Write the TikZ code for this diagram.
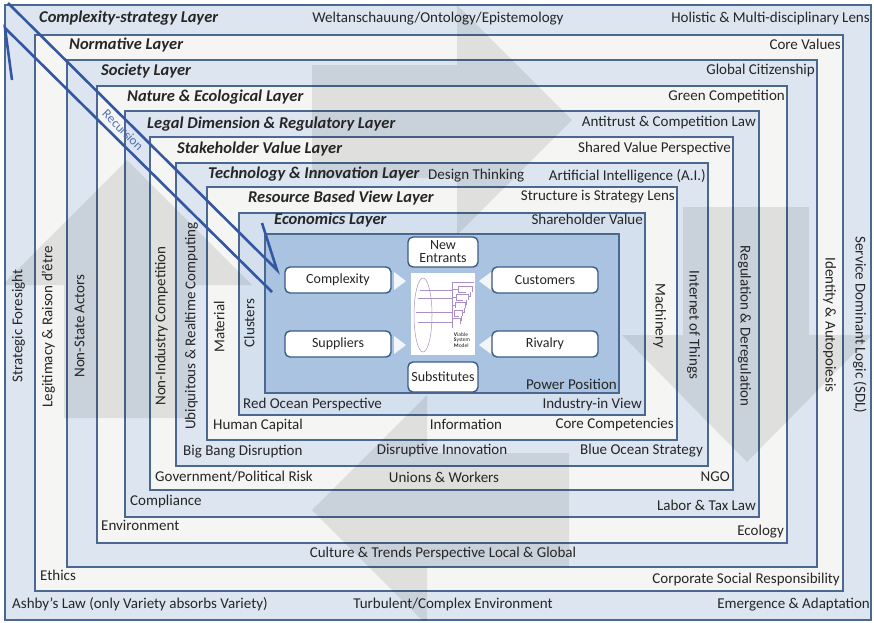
\documentclass[tikz,border=0pt]{standalone}
\usepackage{fontspec}
\setmainfont{Carlito}
\definecolor{bandblue}{HTML}{DDE5F0}
\definecolor{bandwhite}{HTML}{F5F5F3}
\definecolor{econblue}{HTML}{D4E0EE}
\definecolor{coreblue}{HTML}{A9C3E0}
\definecolor{frameline}{HTML}{4A6890}
\definecolor{boxline}{HTML}{3B5B88}
\definecolor{txt}{HTML}{262626}
\definecolor{recblue}{HTML}{3457A4}
\definecolor{vsmpurple}{HTML}{A98FCB}
\begin{document}
\begin{tikzpicture}[x=1pt,y=-1pt,
  every node/.style={text=txt},
  frame/.style={draw=frameline, line width=1.3pt},
  lab/.style={inner sep=0pt, font=\fontsize{15}{17}\selectfont},
  layer/.style={lab, anchor=mid west, font=\fontsize{16.5}{18}\selectfont\bfseries\itshape},
  lw/.style={lab, anchor=mid west},
  le/.style={lab, anchor=mid east},
  lc/.style={lab, anchor=mid},
  up/.style={lab, anchor=mid, rotate=90},
  down/.style={lab, anchor=mid, rotate=-90},
  force/.style={draw=boxline, line width=1.4pt, fill=white, rounded corners=5pt,
    inner sep=0pt, font=\fontsize{14}{14}\selectfont, align=center},
  wide/.style={force, minimum width=106pt, minimum height=26pt},
  tall/.style={force, minimum width=70pt, minimum height=30pt},
  pointer/.style={fill=white, fill opacity=0.85},
  bigarrow/.style={fill=black, fill opacity=0.085},
  vsm/.style={draw=vsmpurple, line width=0.5pt},
  rec/.style={draw=recblue, line width=2.6pt}]

\useasboundingbox (0,0) rectangle (874,622);
\fill[white] (0,0) rectangle (874,622);

% nested layers, outermost first
\path[frame, fill=bandblue]  (5,5)     rectangle (871,620);
\path[frame, fill=bandwhite] (35,35)   rectangle (843,591);
\path[frame, fill=bandblue]  (67,60)   rectangle (817,567);
\path[frame, fill=bandwhite] (97,86)   rectangle (787,543);
\path[frame, fill=bandblue]  (125,111) rectangle (759,517);
\path[frame, fill=bandwhite] (150,137) rectangle (733,490);
\path[frame, fill=bandblue]  (176,163) rectangle (708,466);
\path[frame, fill=bandwhite] (207,187) rectangle (677,440);
\path[frame, fill=econblue]  (239,213) rectangle (645,415);
\path[frame, fill=coreblue]  (265,234) rectangle (619,393);

% four large translucent arrows forming a cycle
\begin{scope}
\clip (5,5) rectangle (871,620);
\fill[bigarrow] (312,65) -- (457,65) -- (457,5) -- (572,120) -- (457,235) -- (457,178) -- (312,178) -- cycle;
\fill[bigarrow] (683,207) -- (809,207) -- (809,335) -- (872,335) -- (747,462) -- (622,335) -- (683,335) -- cycle;
\fill[bigarrow] (569,453) -- (569,567) -- (427,567) -- (427,625) -- (312,510) -- (427,395) -- (427,453) -- cycle;
\fill[bigarrow] (190,418) -- (64,418) -- (64,285) -- (2,285) -- (127,160) -- (252,285) -- (190,285) -- cycle;
\end{scope}

% top rows
\node[layer] (t0) at (39,20)  {Complexity-strategy Layer};
\node[lc]    (t0c) at (438,20) {Weltanschauung/Ontology/Epistemology};
\node[le]    (t0r) at (870,20) {Holistic \& Multi-disciplinary Lens};
\node[layer] (t1) at (69,47)  {Normative Layer};
\node[le]    (t1r) at (841,47) {Core Values};
\node[layer] (t2) at (101,73) {Society Layer};
\node[le]    (t2r) at (815,72) {Global Citizenship};
\node[layer] (t3) at (127,99) {Nature \& Ecological Layer};
\node[le]    (t3r) at (785,98) {Green Competition};
\node[layer] (t4) at (147,126) {Legal Dimension \& Regulatory Layer};
\node[le]    (t4r) at (756,124) {Antitrust \& Competition Law};
\node[layer] (t5) at (177,151) {Stakeholder Value Layer};
\node[le]    (t5r) at (731,150) {Shared Value Perspective};
\node[layer] (t6) at (208,176) {Technology \& Innovation Layer};
\node[lw]    (t6c) at (428,177) {Design Thinking};
\node[le]    (t6r) at (706,178) {Artificial Intelligence (A.I.)};
\node[layer] (t7) at (248,200) {Resource Based View Layer};
\node[le]    (t7r) at (675,198) {Structure is Strategy Lens};
\node[layer] (t8) at (274,222) {Economics Layer};
\node[le]    (t8r) at (643,222) {Shareholder Value};

% bottom rows
\node[le]    (b9r) at (617,387) {Power Position};
\node[lw]    (b8)  at (243,406) {Red Ocean Perspective};
\node[le]    (b8r) at (642,406) {Industry-in View};
\node[lw]    (b7)  at (213,427) {Human Capital};
\node[lc]    (b7c) at (466,427) {Information};
\node[le]    (b7r) at (674,426) {Core Competencies};
\node[lw]    (b6)  at (183,453) {Big Bang Disruption};
\node[lc]    (b6c) at (442,452) {Disruptive Innovation};
\node[le]    (b6r) at (703,452) {Blue Ocean Strategy};
\node[lw]    (b5)  at (155,479) {Government/Political Risk};
\node[lc]    (b5c) at (444,480) {Unions \& Workers};
\node[le]    (b5r) at (730,479) {NGO};
\node[lw]    (b4)  at (130,503) {Compliance};
\node[le]    (b4r) at (756,508) {Labor \& Tax Law};
\node[lw]    (b3)  at (101,528) {Environment};
\node[le]    (b3r) at (784,533) {Ecology};
\node[lc]    (b2c) at (443,555) {Culture \& Trends Perspective Local \& Global};
\node[lw]    (b1)  at (40,578)  {Ethics};
\node[le]    (b1r) at (840,581) {Corporate Social Responsibility};
\node[lw]    (b0)  at (12,606)  {Ashby’s Law (only Variety absorbs Variety)};
\node[lc]    (b0c) at (453,606) {Turbulent/Complex Environment};
\node[le]    (b0r) at (870,606) {Emergence \& Adaptation};

% side columns
\node[up]   (s0) at (20,326)  {Strategic Foresight};
\node[up]   (s1) at (50,327)  {Legitimacy \& Raison d’être};
\node[up]   (s2) at (82,326)  {Non-State Actors};
\node[up]   (s5) at (163,326) {Non-Industry Competition};
\node[up]   (s6) at (193,326) {Ubiquitous \& Realtime Computing};
\node[up]   (s7) at (222,327) {Material};
\node[up]   (s8) at (252,323) {Clusters};
\node[down] (e7) at (658,316) {Machinery};
\node[down] (e6) at (692,325) {Internet of Things};
\node[down] (e4) at (743,326) {Regulation \& Deregulation};
\node[down] (e1) at (828,325) {Identity \& Autopoiesis};
\node[down] (e0) at (858,325) {Service Dominant Logic (SDL)};

% five forces around the viable system model
\node[wide] (complexity) at (338,280) {Complexity};
\node[wide] (customers)  at (545,280) {Customers};
\node[wide] (suppliers)  at (338,344) {Suppliers};
\node[wide] (rivalry)    at (545,344) {Rivalry};
\node[tall] (entrants)   at (443,252) {New\\[-1pt]Entrants};
\node[tall] (substitutes) at (443,377) {Substitutes};

\fill[pointer] (394,272) -- (406,281) -- (394,290) -- cycle;
\fill[pointer] (394,336) -- (406,345) -- (394,354) -- cycle;
\fill[pointer] (491,272) -- (479,281) -- (491,290) -- cycle;
\fill[pointer] (491,336) -- (479,345) -- (491,354) -- cycle;

% viable system model sketch
\fill[white] (411,273) rectangle (475,355);
\draw[vsm] (423,315) ellipse [x radius=9, y radius=37];
\draw[vsm] (452,282) -- (452,328);
\draw[vsm] (452,282) -- (474,282);
\draw[vsm] (458,286) -- (472,286) -- (472,292) (458,286) -- (458,292) -- (466,292);
\draw[vsm] (456,294) -- (468,294) -- (468,300) (456,294) -- (456,300) -- (463,300);
\draw[vsm] (455,302) -- (465,302) -- (465,308) (455,302) -- (455,308);
\draw[vsm] (454,310) -- (462,310) -- (462,316) (454,310) -- (454,316) -- (459,316);
\draw[vsm] (453,318) -- (460,318) -- (460,324);
\draw[vsm] (452,289) -- (458,289) (452,297) -- (456,297) (452,305) -- (455,305);
\draw[vsm] (470,292) -- (470,296) -- (468,296) (466,300) -- (466,304) -- (465,304)
  (464,308) -- (464,312) -- (462,312) (461,316) -- (461,320) -- (460,320);
\draw[vsm] (418,298) -- (452,298) (416,312) -- (452,312) (418,322) -- (452,322) (420,290) -- (452,290);
\node[inner sep=0pt, align=left, font=\fontsize{5.5}{5.8}\selectfont, text=black!85] (vsmtext) at (462,340)
  {\textbf{V}iable\\\textbf{S}ystem\\\textbf{M}odel};

% recursion arrows
\coordinate (ra) at (8,3);
\coordinate (rb) at (277,270);
\coordinate (rbarb) at (262,223);
\coordinate (rc) at (272,292);
\coordinate (rd) at (5,28);
\coordinate (rdbarb) at (12,80);
\draw[rec] (ra) -- (rb) -- (rbarb);
\draw[rec] (rc) -- (rd) -- (rdbarb);
\node[inner sep=0pt, rotate=-45, font=\fontsize{13}{13}\selectfont, text=recblue!85] (recursion) at (123,130) {Recursion};

\end{tikzpicture}
\end{document}
